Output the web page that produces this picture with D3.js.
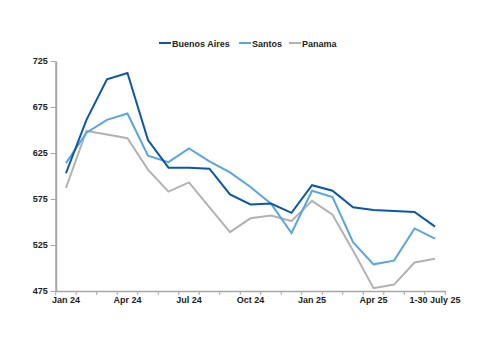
<!DOCTYPE html>
<html lang="en">
  <head>
    <meta charset="utf-8">
    <title>Port prices</title>
    <script type="text/javascript" src="https://cdn.jsdelivr.net/npm/d3@7"></script>
    <style>
      body { margin: 0; background: #fff; }
      text { font-family: "Liberation Sans", Arial, sans-serif; font-weight: bold; fill: #222; }
    </style>
  </head>
  <body>
    <script type="text/javascript">

    var w = 500;
    var h = 353;

    var months = ["Jan 24", "Feb 24", "Mar 24", "Apr 24", "May 24", "Jun 24", "Jul 24", "Aug 24",
                  "Sep 24", "Oct 24", "Nov 24", "Dec 24", "Jan 25", "Feb 25", "Mar 25", "Apr 25",
                  "May 25", "Jun 25", "1-30 July 25"];
    var shownLabels = ["Jan 24", "Apr 24", "Jul 24", "Oct 24", "Jan 25", "Apr 25", "1-30 July 25"];
    var yTicks = [475, 525, 575, 625, 675, 725];

    var buenosAires = [603, 661, 705, 712, 639, 609, 609, 608, 580, 569, 570, 560, 590, 584, 566, 563, 562, 561, 545];
    var santos      = [614, 647, 661, 668, 622, 615, 630, 616, 604, 588, 570, 538, 584, 577, 528, 504, 508, 543, 532];
    var panama      = [587, 649, 645, 641, 607, 583, 593, 566, 539, 554, 557, 551, 573, 558, 519, 478, 482, 506, 510];

    var series = [
      { name: "Buenos Aires", values: buenosAires, color: "#0c57a5" },
      { name: "Santos", values: santos, color: "#5aa5de" },
      { name: "Panama", values: panama, color: "#b2b2b2" }
    ];

    var plotLeft = 55.7, plotRight = 445.3, plotTop = 61, plotBottom = 291;

    var xScale = d3.scaleBand()
                   .domain(months)
                   .range([plotLeft, plotRight])
                   .padding(0);

    var yScale = d3.scaleLinear()
                   .domain([475, 725])
                   .range([plotBottom, plotTop]);

    var svg = d3.select("body")
                .append("svg")
                .attr("width", w)
                .attr("height", h);

    // y axis
    var yAxis = d3.axisLeft(yScale)
                  .tickValues(yTicks)
                  .tickSize(5)
                  .tickSizeOuter(0)
                  .tickPadding(3);

    var gy = svg.append("g")
                .attr("transform", "translate(" + plotLeft + ",0)")
                .call(yAxis);
    gy.select(".domain").attr("stroke", "#a6a6a6").attr("stroke-width", 2);
    gy.selectAll(".tick line").attr("stroke", "#a6a6a6");
    gy.selectAll(".tick text").attr("font-size", "9px").attr("font-family", null);

    // x axis: labels centred in the bands, ticks at band edges
    var xAxis = d3.axisBottom(xScale)
                  .tickValues(shownLabels)
                  .tickSize(0)
                  .tickSizeOuter(0)
                  .tickPadding(6);

    var gx = svg.append("g")
                .attr("transform", "translate(0," + plotBottom + ")")
                .call(xAxis);
    gx.select(".domain").attr("stroke", "#a6a6a6").attr("stroke-width", 1.5);
    gx.selectAll(".tick text").attr("font-size", "9px").attr("font-family", null);

    var edges = d3.range(months.length + 1);
    svg.append("g")
       .selectAll("line")
       .data(edges)
       .enter()
       .append("line")
       .attr("x1", function(d) { return plotLeft + d * xScale.step(); })
       .attr("x2", function(d) { return plotLeft + d * xScale.step(); })
       .attr("y1", plotBottom)
       .attr("y2", plotBottom + 4)
       .attr("stroke", "#a6a6a6");

    // lines
    var line = d3.line()
                 .x(function(d, i) { return xScale(months[i]) + xScale.bandwidth() / 2; })
                 .y(function(d) { return yScale(d); });

    svg.selectAll("path.series")
       .data(series.slice().reverse())
       .enter()
       .append("path")
       .attr("class", "series")
       .attr("d", function(d) { return line(d.values); })
       .attr("fill", "none")
       .attr("stroke", function(d) { return d.color; })
       .attr("stroke-width", 2);

    // legend
    var legendX = [159, 239, 289];
    var legend = svg.selectAll("g.legend")
                    .data(series)
                    .enter()
                    .append("g")
                    .attr("class", "legend")
                    .attr("transform", function(d, i) { return "translate(" + legendX[i] + ",43)"; });

    legend.append("line")
          .attr("x1", 0)
          .attr("x2", 12)
          .attr("stroke", function(d) { return d.color; })
          .attr("stroke-width", 2);

    legend.append("text")
          .attr("x", 13)
          .attr("y", 3.5)
          .attr("font-size", "9px")
          .text(function(d) { return d.name; });

    </script>
  </body>
</html>
